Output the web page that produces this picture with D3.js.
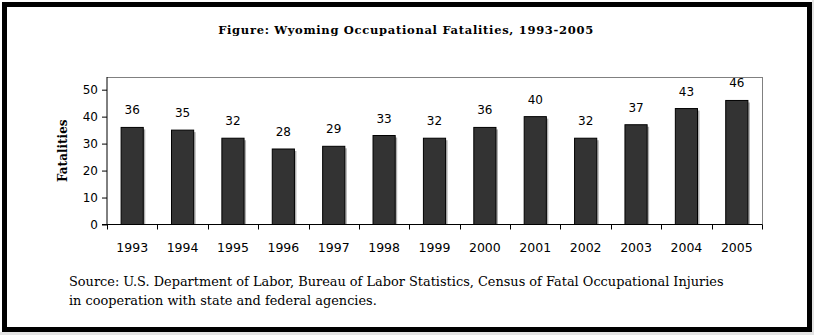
<!DOCTYPE html>
<html>
<head>
<meta charset="utf-8">
<script src="https://cdn.jsdelivr.net/npm/d3@7"></script>
<style>
  html, body { margin: 0; padding: 0; background: #fff; }
  svg { display: block; }
</style>
</head>
<body>
<svg id="chart" width="814" height="335"></svg>
<script>
// Wyoming occupational fatalities by year
const years = ["1993","1994","1995","1996","1997","1998","1999","2000","2001","2002","2003","2004","2005"];
const fatalities = [36, 35, 32, 28, 29, 33, 32, 36, 40, 32, 37, 43, 46];
const yTicks = [0, 10, 20, 30, 40, 50];

const titleText = "Figure: Wyoming Occupational Fatalities, 1993-2005";
const sourceLines = [
  "Source: U.S. Department of Labor, Bureau of Labor Statistics, Census of Fatal Occupational Injuries",
  "in cooperation with state and federal agencies."
];

const svg = d3.select("#chart");
const W = 814, H = 335;

// light edge shading outside the frame
svg.append("rect").attr("x", 0).attr("y", 0).attr("width", W).attr("height", H).attr("fill", "#e4e4e4");
svg.append("rect").attr("x", 0).attr("y", 0).attr("width", 812).attr("height", 332).attr("fill", "#fff");

// thick black frame
svg.append("rect")
  .attr("x", 4.5).attr("y", 4.5).attr("width", 805).attr("height", 325)
  .attr("fill", "none").attr("stroke", "#000").attr("stroke-width", 5);

// title
svg.append("text")
  .attr("x", 406).attr("y", 34)
  .attr("text-anchor", "middle")
  .attr("font-family", "'DejaVu Serif', serif")
  .attr("font-weight", "bold")
  .attr("font-size", 11.5)
  .attr("letter-spacing", 0.7)
  .text(titleText);

// plot area
const plot = { left: 107, right: 762, top: 77, bottom: 224.5 };

const x = d3.scaleBand().domain(years).range([plot.left, plot.right]).paddingInner(0.56).paddingOuter(0.28);
const xEdges = d3.scaleLinear().domain([0, years.length]).range([plot.left, plot.right]);
const y = d3.scaleLinear().domain([0, 54.7]).range([plot.bottom, plot.top]);

// plot border (top and right in grey)
svg.append("path")
  .attr("d", `M${plot.left},${plot.top}H${plot.right}V${plot.bottom}`)
  .attr("fill", "none").attr("stroke", "#808080").attr("stroke-width", 1)
  .attr("shape-rendering", "crispEdges");

// bars with a soft shadow on the right
const bars = svg.append("g");
bars.selectAll("rect.shadow").data(fatalities).join("rect")
  .attr("class", "shadow")
  .attr("x", (d, i) => x(years[i]) + 2)
  .attr("y", d => y(d) + 2)
  .attr("width", x.bandwidth())
  .attr("height", d => plot.bottom - y(d) - 2)
  .attr("fill", "#b0b0b0");
bars.selectAll("rect.bar").data(fatalities).join("rect")
  .attr("class", "bar")
  .attr("x", (d, i) => x(years[i]))
  .attr("y", d => y(d))
  .attr("width", x.bandwidth())
  .attr("height", d => plot.bottom - y(d))
  .attr("fill", "#333333")
  .attr("stroke", "#000").attr("stroke-width", 1);

// value labels
svg.append("g").selectAll("text").data(fatalities).join("text")
  .attr("x", (d, i) => x(years[i]) + x.bandwidth() / 2)
  .attr("y", d => y(d) - 13)
  .attr("text-anchor", "middle")
  .attr("font-family", "'DejaVu Sans', Verdana, sans-serif")
  .attr("font-size", 12)
  .attr("fill", "#000")
  .text(d => d);

// y axis
const yAxis = svg.append("g")
  .attr("transform", `translate(${plot.left},0)`)
  .call(d3.axisLeft(y).tickValues(yTicks).tickSize(5).tickPadding(4));
yAxis.select(".domain").attr("d", `M0,${plot.top}V${plot.bottom}`).attr("stroke", "#000");
yAxis.selectAll("text")
  .attr("font-family", "'DejaVu Sans', Verdana, sans-serif")
  .attr("font-size", 12).attr("fill", "#000");
yAxis.selectAll(".tick line").attr("stroke", "#000");

// x axis: baseline with ticks between categories
const xAxis = svg.append("g").attr("transform", `translate(0,${plot.bottom})`);
xAxis.append("line")
  .attr("x1", plot.left - 5).attr("x2", plot.right)
  .attr("stroke", "#000").attr("shape-rendering", "crispEdges");
xAxis.selectAll("line.tick").data(d3.range(years.length + 1)).join("line")
  .attr("class", "tick")
  .attr("x1", i => Math.round(xEdges(i)) + 0.5).attr("x2", i => Math.round(xEdges(i)) + 0.5)
  .attr("y1", 0).attr("y2", 5)
  .attr("stroke", "#000");
xAxis.selectAll("text").data(years).join("text")
  .attr("x", d => x(d) + x.bandwidth() / 2)
  .attr("y", 27)
  .attr("text-anchor", "middle")
  .attr("font-family", "'DejaVu Sans', Verdana, sans-serif")
  .attr("font-size", 12.5)
  .attr("fill", "#000")
  .text(d => d);

// y axis title
svg.append("text")
  .attr("transform", `translate(67,${(plot.top + plot.bottom) / 2}) rotate(-90)`)
  .attr("text-anchor", "middle")
  .attr("font-family", "'DejaVu Serif', serif")
  .attr("font-weight", "bold")
  .attr("font-size", 12)
  .text("Fatalities");

// source note
svg.append("g").selectAll("text").data(sourceLines).join("text")
  .attr("x", 69)
  .attr("y", (d, i) => 286 + i * 18.5)
  .attr("font-family", "'DejaVu Serif', serif")
  .attr("font-size", 12.9)
  .attr("fill", "#000")
  .text(d => d);
</script>
</body>
</html>
